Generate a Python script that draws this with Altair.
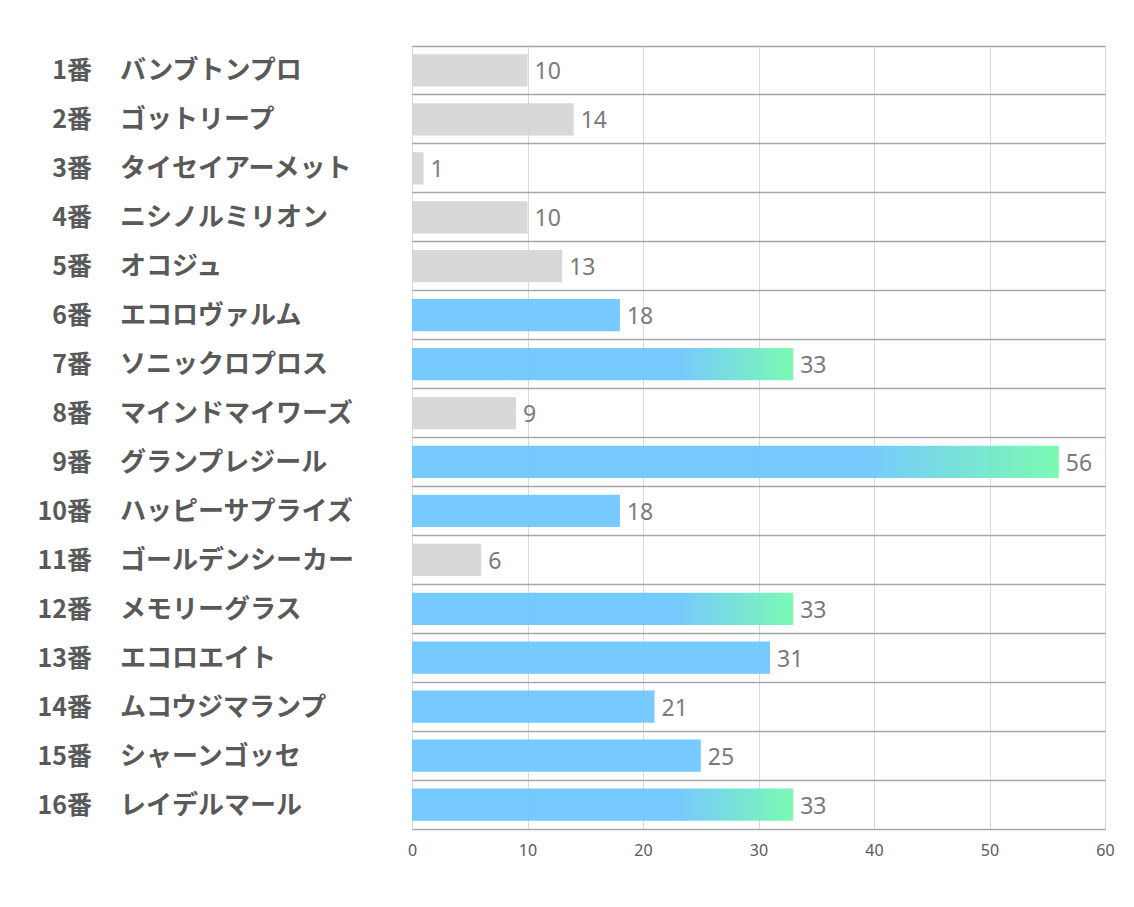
import altair as alt
import pandas as pd

nums = ["1番", "2番", "3番", "4番", "5番", "6番", "7番", "8番",
        "9番", "10番", "11番", "12番", "13番", "14番", "15番", "16番"]
names = ["バンブトンプロ", "ゴットリープ", "タイセイアーメット", "ニシノルミリオン",
         "オコジュ", "エコロヴァルム", "ソニックロプロス", "マインドマイワーズ",
         "グランプレジール", "ハッピーサプライズ", "ゴールデンシーカー", "メモリーグラス",
         "エコロエイト", "ムコウジマランプ", "シャーンゴッセ", "レイデルマール"]
values = [10, 14, 1, 10, 13, 18, 33, 9, 56, 18, 6, 33, 31, 21, 25, 33]
groups = ["通常", "通常", "通常", "通常", "通常", "注目", "本命", "通常",
          "本命", "注目", "通常", "本命", "注目", "注目", "注目", "本命"]
x_ticks = [0, 10, 20, 30, 40, 50, 60]

df = pd.DataFrame({"num": nums, "name": names, "value": values, "group": groups})

GRAY = "#d5d5d5"
BLUE = "#6ac5fd"
GREEN = "#6ffaad"

y_enc = alt.Y(
    "num:N", sort=nums,
    scale=alt.Scale(paddingInner=0, paddingOuter=0),
    axis=alt.Axis(title=None, labels=False, ticks=False, domain=False,
                  grid=True, gridColor="#a6a6a6", gridWidth=1.3, bandPosition=0),
)
x_enc = alt.X(
    "value:Q",
    scale=alt.Scale(domain=[0, 60], nice=False, zero=True),
    axis=alt.Axis(title=None, values=x_ticks, ticks=False, grid=True,
                  gridColor="#d9d9d9", gridWidth=1, domainColor="#a6a6a6",
                  domainWidth=1.3, labelFontSize=16, labelColor="#595959",
                  labelPadding=13, labelFont="Noto Sans", labelFlush=False),
)

base = alt.Chart(df).encode(y=y_enc)

band = alt.RelativeBandSize(band=0.66)

bars_gray = base.transform_filter(alt.datum.group == "通常").mark_bar(
    height=band, color=GRAY, opacity=0.92).encode(x=x_enc)
bars_blue = base.transform_filter(alt.datum.group == "注目").mark_bar(
    height=band, color=BLUE, opacity=0.92).encode(x=x_enc)
grad = alt.Gradient(
    gradient="linear", x1=0, x2=1, y1=0, y2=0,
    stops=[alt.GradientStop(offset=0, color=BLUE),
           alt.GradientStop(offset=0.7, color=BLUE),
           alt.GradientStop(offset=1, color=GREEN)],
)
bars_grad = base.transform_filter(alt.datum.group == "本命").mark_bar(
    height=band, color=grad, opacity=0.92).encode(x=x_enc)

value_text = base.mark_text(
    align="left", baseline="middle", dx=7, dy=2, fontSize=23, color="#7a7a7a",
    font="Noto Sans").encode(x=x_enc, text="value:Q")

num_text = base.mark_text(
    align="right", baseline="middle", dy=1, fontSize=25, fontWeight="bold",
    color="#595959", font="Noto Sans CJK JP").encode(
    x=alt.value(-320), text="num:N")

name_text = base.mark_text(
    align="left", baseline="middle", dy=1, fontSize=26, fontWeight="bold",
    color="#595959", font="Noto Sans CJK JP").encode(
    x=alt.value(-292), text="name:N")

chart = alt.layer(
    bars_gray, bars_blue, bars_grad, value_text, num_text, name_text
).properties(
    width=693, height=783,
    autosize=alt.AutoSizeParams(type="none"),
    padding={"left": 404, "top": 38, "right": 18, "bottom": 60},
).configure_view(stroke=None).configure(background="white")

chart.save("out.html", embed_options={"renderer": "svg", "actions": False})
